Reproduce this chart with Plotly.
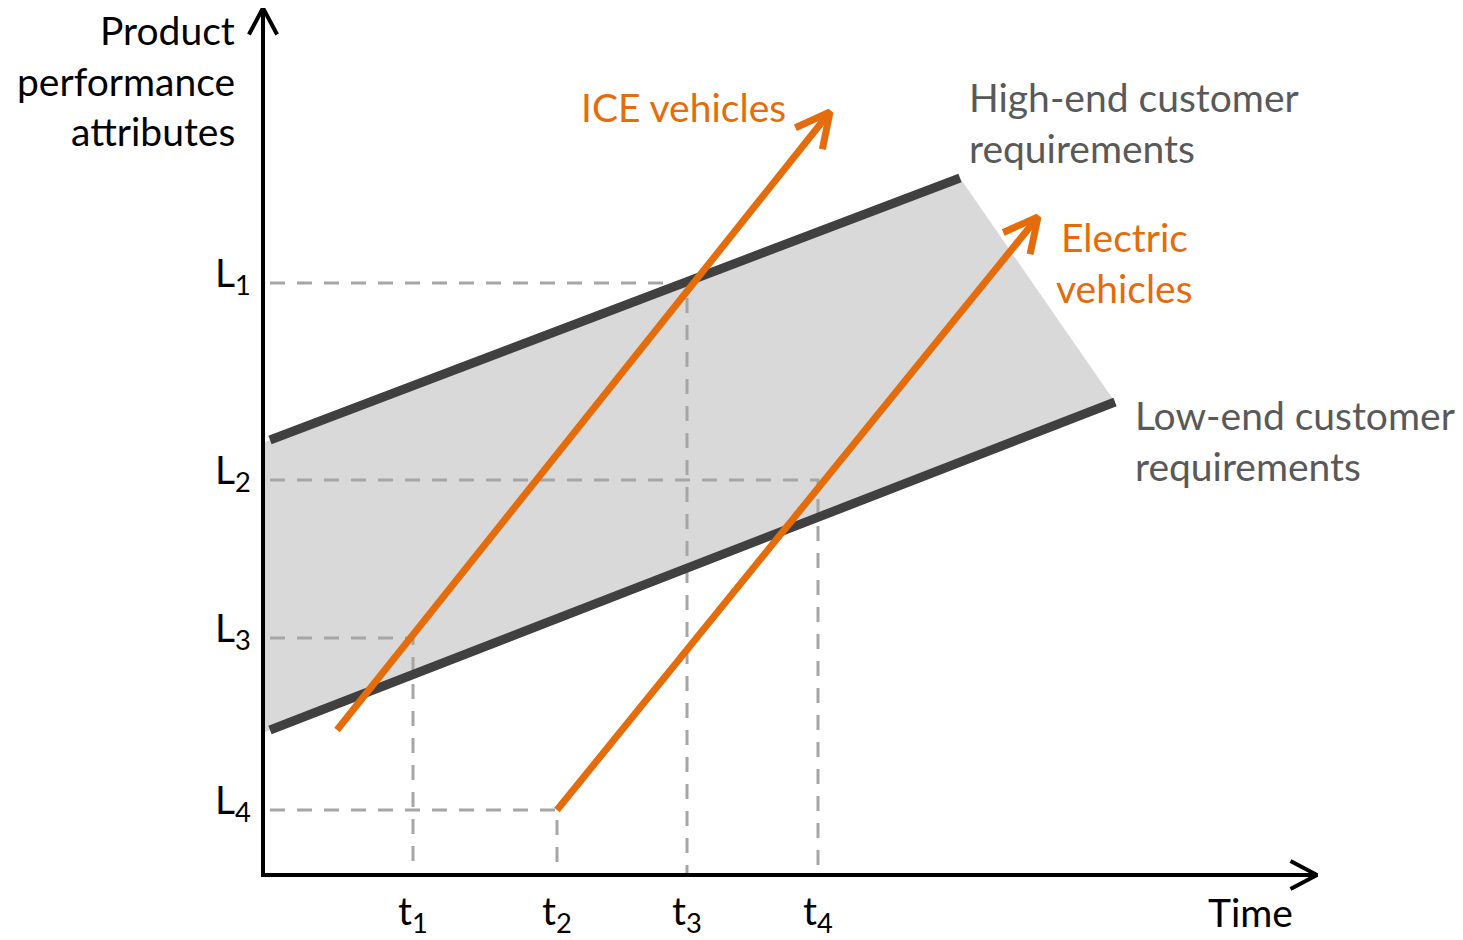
import numpy as np
import plotly.graph_objects as go

# ---- data (x: time units, y: performance units; origin at axes crossing) ----
t_labels = ["t<sub>1</sub>", "t<sub>2</sub>", "t<sub>3</sub>", "t<sub>4</sub>"]
t_values = [150, 294, 424, 555]
L_labels = ["L<sub>1</sub>", "L<sub>2</sub>", "L<sub>3</sub>", "L<sub>4</sub>"]
L_values = [592, 395, 237, 65]
L_reach = [424, 555, 150, 294]  # time where each level's guide meets its t

high_x = [7, 697]
high_y = [435, 697]
low_x = [7, 852]
low_y = [145, 473]

ice_x = [74, 567]
ice_y = [145, 763]
ev_x = [294, 775]
ev_y = [65, 658]

axis_x_end = 1054
axis_y_end = 867

ORANGE = "#E46C0A"
DARK = "#404040"
GRAYTXT = "#595959"
FONT = "Lato"
FS = 39

fig = go.Figure()


def interp(xs, ys, x):
    return ys[0] + (ys[1] - ys[0]) * (x - xs[0]) / (xs[1] - xs[0])


# band fill
band_left = 2
fig.add_trace(go.Scatter(
    x=[band_left, high_x[1], low_x[1], band_left, band_left],
    y=[interp(high_x, high_y, band_left), high_y[1], low_y[1],
       interp(low_x, low_y, band_left), interp(high_x, high_y, band_left)],
    fill="toself", fillcolor="#D9D9D9", line=dict(width=0),
    mode="lines", hoverinfo="skip", showlegend=False))

# dashed guides
for lv, lr in zip(L_values, L_reach):
    fig.add_trace(go.Scatter(
        x=[7, lr, lr], y=[lv, lv, 0], mode="lines",
        line=dict(color="#A6A6A6", width=3, dash="15px,12px"),
        hoverinfo="skip", showlegend=False))

# requirement lines
for xs, ys in [(high_x, high_y), (low_x, low_y)]:
    fig.add_trace(go.Scatter(x=xs, y=ys, mode="lines",
                             line=dict(color=DARK, width=9),
                             hoverinfo="skip", showlegend=False))


def arrow_head(x0, y0, x1, y1, length, angle_deg):
    d = np.array([x1 - x0, y1 - y0], dtype=float)
    d /= np.linalg.norm(d)
    back = -d
    a = np.radians(angle_deg)
    rot = lambda v, t: np.array([v[0] * np.cos(t) - v[1] * np.sin(t),
                                 v[0] * np.sin(t) + v[1] * np.cos(t)])
    p1 = np.array([x1, y1]) + length * rot(back, a)
    p2 = np.array([x1, y1]) + length * rot(back, -a)
    return [p1[0], x1, p2[0]], [p1[1], y1, p2[1]]


# technology trajectories
for xs, ys in [(ice_x, ice_y), (ev_x, ev_y)]:
    fig.add_trace(go.Scatter(x=xs, y=ys, mode="lines",
                             line=dict(color=ORANGE, width=7),
                             hoverinfo="skip", showlegend=False))
    hx, hy = arrow_head(xs[0], ys[0], xs[1], ys[1], 38, 27)
    fig.add_trace(go.Scatter(x=hx, y=hy, mode="lines",
                             line=dict(color=ORANGE, width=7),
                             hoverinfo="skip", showlegend=False))

# axes
fig.add_trace(go.Scatter(x=[0, 0, axis_x_end], y=[axis_y_end, 0, 0], mode="lines",
                         line=dict(color="black", width=4),
                         hoverinfo="skip", showlegend=False))
for (x0, y0, x1, y1) in [(0, 0, 0, axis_y_end), (0, 0, axis_x_end, 0)]:
    hx, hy = arrow_head(x0, y0, x1, y1, 30, 28)
    fig.add_trace(go.Scatter(x=hx, y=hy, mode="lines",
                             line=dict(color="black", width=4),
                             hoverinfo="skip", showlegend=False))

ann = []


def txt(x, y, s, color, size=FS, xanchor="left"):
    ann.append(dict(x=x, y=y, text=s, showarrow=False, xanchor=xanchor,
                    yanchor="middle", font=dict(family=FONT, size=size, color=color)))


# axis titles
for i, line in enumerate(["Product", "performance", "attributes"]):
    txt(-26, 845 - 50.5 * i, line, "black", xanchor="right")
txt(987, -37, "Time", "black", xanchor="center")

# tick labels
for lab, lv in zip(L_labels, L_values):
    txt(-10, lv + 8, lab, "black", xanchor="right")
for lab, tv in zip(t_labels, t_values):
    txt(tv, -38, lab, "black", xanchor="center")

# series labels
txt(316, 768, "ICE vehicles", ORANGE)
txt(704, 778, "High-end customer", GRAYTXT)
txt(704, 727, "requirements", GRAYTXT)
txt(861, 638, "Electric", ORANGE, xanchor="center")
txt(861, 587, "vehicles", ORANGE, xanchor="center")
txt(870, 460, "Low-end customer", GRAYTXT)
txt(870, 409, "requirements", GRAYTXT)

# the page body adds an 8px margin, so the figure is 8px smaller and
# its ranges are trimmed accordingly to keep the same scale
fig.update_layout(
    width=1455, height=932, autosize=False,
    margin=dict(l=0, r=0, t=0, b=0),
    paper_bgcolor="white", plot_bgcolor="white",
    xaxis=dict(range=[-255, 1200], visible=False, fixedrange=True),
    yaxis=dict(range=[-65, 867], visible=False, fixedrange=True),
    annotations=ann, showlegend=False,
)

fig.write_html("out.html")
